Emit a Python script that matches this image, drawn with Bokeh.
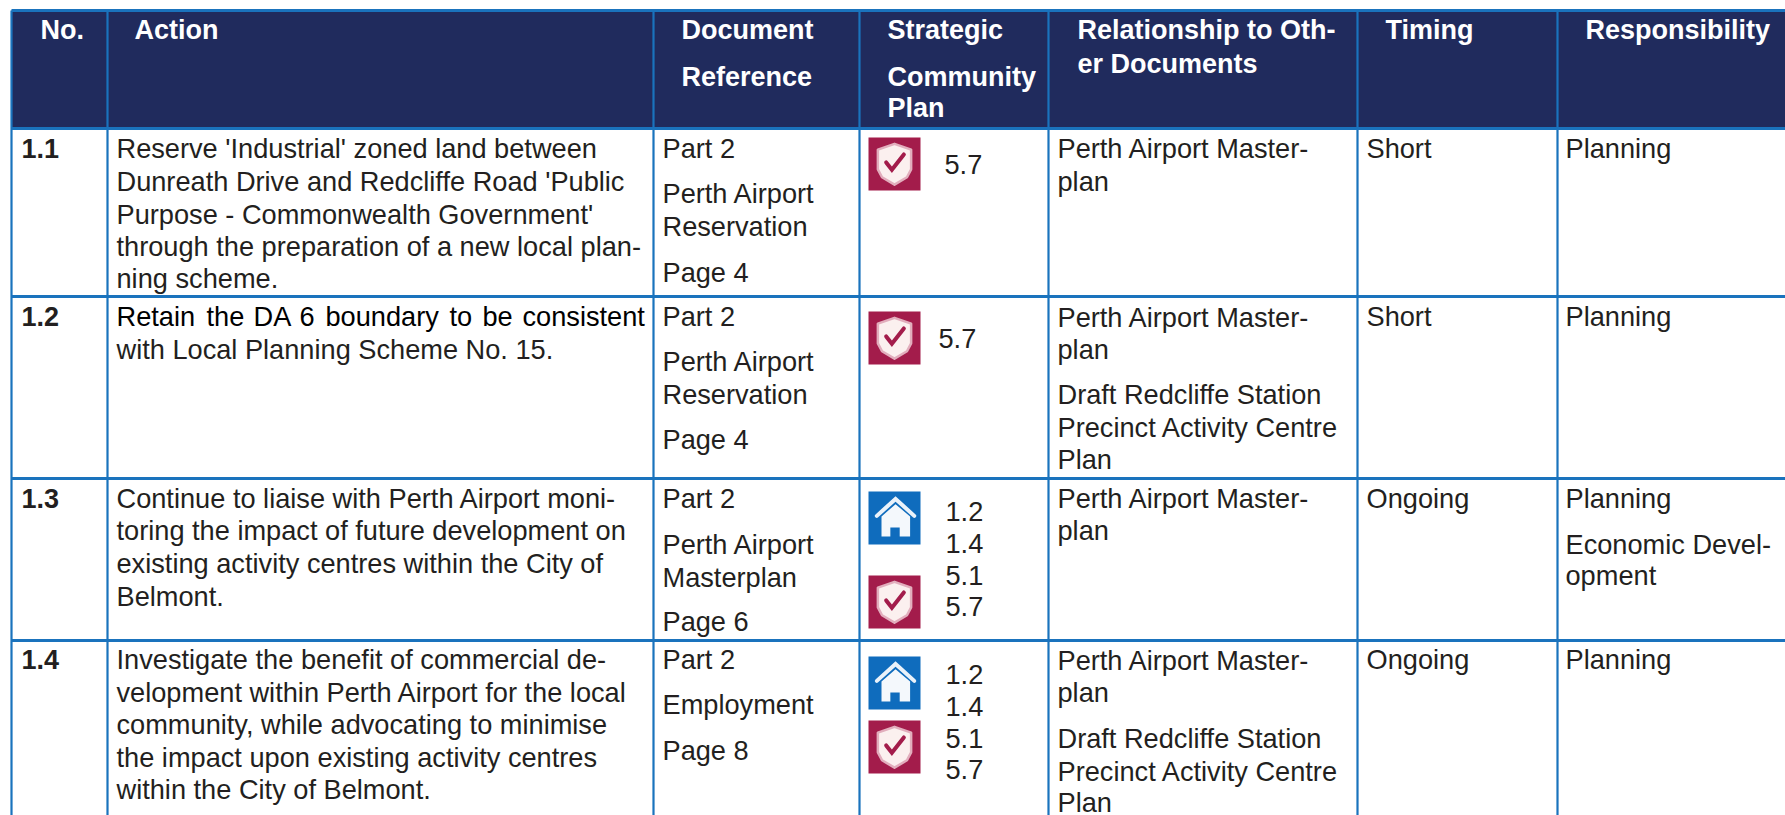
from bokeh.plotting import figure
from bokeh.models import ColumnDataSource
from bokeh.core.properties import value
from bokeh.embed import file_html
from bokeh.resources import INLINE

# ---------- content ----------
HEADERS = [["No."], ["Action"], ["Document", "Reference"], ["Strategic", "Community", "Plan"],
           ["Relationship to Oth-", "er Documents"], ["Timing"], ["Responsibility"]]
NUMBERS = ["1.1", "1.2", "1.3", "1.4"]
ACTIONS = [
    ["Reserve 'Industrial' zoned land between", "Dunreath Drive and Redcliffe Road 'Public",
     "Purpose - Commonwealth Government'", "through the preparation of a new local plan-", "ning scheme."],
    ["with Local Planning Scheme No. 15."],
    ["Continue to liaise with Perth Airport moni-", "toring the impact of future development on",
     "existing activity centres within the City of", "Belmont."],
    ["Investigate the benefit of commercial de-", "velopment within Perth Airport for the local",
     "community, while advocating to minimise", "the impact upon existing activity centres",
     "within the City of Belmont."],
]
JUSTIFIED_WORDS = ["Retain", "the", "DA", "6", "boundary", "to", "be", "consistent"]
DOC_REFS = [
    ["Part 2", "Perth Airport", "Reservation", "Page 4"],
    ["Part 2", "Perth Airport", "Reservation", "Page 4"],
    ["Part 2", "Perth Airport", "Masterplan", "Page 6"],
    ["Part 2", "Employment", "Page 8"],
]
PLAN_CODES = [["5.7"], ["5.7"], ["1.2", "1.4", "5.1", "5.7"], ["1.2", "1.4", "5.1", "5.7"]]
PLAN_ICONS = [["shield"], ["shield"], ["house", "shield"], ["house", "shield"]]
RELATED = [
    ["Perth Airport Master-", "plan"],
    ["Perth Airport Master-", "plan", "Draft Redcliffe Station", "Precinct Activity Centre", "Plan"],
    ["Perth Airport Master-", "plan"],
    ["Perth Airport Master-", "plan", "Draft Redcliffe Station", "Precinct Activity Centre", "Plan"],
]
TIMING = ["Short", "Short", "Ongoing", "Ongoing"]
RESPONSIBLE = [["Planning"], ["Planning"], ["Planning", "Economic Devel-", "opment"], ["Planning"]]

# ---------- layout (page pixels) ----------
W, H = 1785, 815
V_LINES = [11, 107, 653, 859, 1048, 1357, 1557]
TABLE_TOP, HEAD_BOTTOM = 10, 128
ROW_LINES = [296, 478, 640]
COL_X = dict(no=21, action=116, doc=662, code=945, rel=1057, timing=1366, resp=1565)
HEAD_X = [40, 134, 681, 887, 1077, 1385, 1585]
HEAD_Y = [[38], [38], [38, 85], [38, 85, 116], [38, 72], [38], [38]]
ROW_BASE = [157, 325, 507, 668]
ACTION_Y = [[157, 190, 223, 255, 287], [358], [507, 539, 572, 605], [668, 701, 733, 766, 798]]
WORD_X = [116, 206, 253, 299, 325, 449, 482, 522]
DOC_Y = [[157, 202, 235, 281], [325, 370, 403, 448], [507, 553, 586, 630], [668, 713, 759]]
CODE_X = [[944], [938], [945] * 4, [945] * 4]
CODE_Y = [[173], [347], [520, 552, 584, 615], [683, 715, 747, 778]]
ICON_Y = [[137], [311], [491, 575], [656, 720]]
ICON_X, ICON_W, ICON_H = 868, 52, 53
REL_Y = [[157, 190], [326, 358, 403, 436, 468], [507, 539], [669, 701, 747, 780, 811]]
RESP_Y = [[157], [325], [507, 553, 584], [668]]

NAVY, RULE, INK, BLUE, RED = "#202b5d", "#1a73bd", "#231f20", "#0f6cbd", "#a31c4b"
FONT = value("Liberation Sans")
SIZE = "27.2px"
HEAD_SIZE = "27px"
BODY_DY = -9.5
HEAD_DY = -8.5

p = figure(width=W, height=H, x_range=(0, W), y_range=(H, 0), x_axis_location=None, y_axis_location=None,
           toolbar_location=None, output_backend="svg", min_border=0, outline_line_color=None,
           background_fill_color="white", border_fill_color="white")
p.grid.visible = False

# header band
p.quad(left=[V_LINES[0]], right=[W], top=[TABLE_TOP], bottom=[HEAD_BOTTOM], fill_color=NAVY, line_color=None)

# icons
def icon(kind, x0, y0):
    sx = lambda v: x0 + v * ICON_W
    sy = lambda v: y0 + v * ICON_H
    def poly(pts, **kw):
        p.patch([sx(a) for a, _ in pts], [sy(b) for _, b in pts], **kw)
    def stroke(pts, color, width):
        p.line([sx(a) for a, _ in pts], [sy(b) for _, b in pts], line_color=color, line_width=width,
               line_join="miter", line_cap="round")
    if kind == "house":
        p.quad(left=[x0], right=[x0 + ICON_W], top=[y0], bottom=[y0 + ICON_H], fill_color=BLUE, line_color=None)
        poly([(.25, .47), (.52, .24), (.80, .47), (.80, .85), (.60, .85), (.60, .68), (.42, .68), (.42, .85), (.25, .85)],
             fill_color="#f4f8fc", line_color=None)
        stroke([(.16, .46), (.52, .14), (.88, .46)], "#eaf2fa", 4)
    else:
        p.quad(left=[x0], right=[x0 + ICON_W], top=[y0], bottom=[y0 + ICON_H], fill_color=RED, line_color=None)
        poly([(.5, .12), (.82, .23), (.82, .60), (.74, .75), (.5, .89), (.26, .75), (.18, .60), (.18, .23)],
             fill_color="#fbf0ef", line_color="#e2aebd", line_width=2.5, line_join="round")
        stroke([(.34, .47), (.45, .61), (.68, .32)], RED, 4)

for kinds, ys in zip(PLAN_ICONS, ICON_Y):
    for k, y in zip(kinds, ys):
        icon(k, ICON_X, y)

# rules
for x in V_LINES:
    p.segment([x], [TABLE_TOP], [x], [H], line_color=RULE, line_width=2.2)
for y in [TABLE_TOP, HEAD_BOTTOM] + ROW_LINES:
    p.segment([V_LINES[0]], [y], [W], [y], line_color=RULE, line_width=2.8)

# text
def put(xs, ys, texts, color=INK, style="normal", size=SIZE, dy=BODY_DY):
    src = ColumnDataSource(dict(x=xs, y=[v + dy for v in ys], t=texts))
    p.text("x", "y", "t", source=src, text_font=FONT, text_font_size=size, text_font_style=style,
           text_color=color, text_baseline="alphabetic", text_align="left")

def column(x, lines, ys, **kw):
    flat_t = [t for row in lines for t in row]
    flat_y = [y for row in ys for y in row]
    put([x] * len(flat_t), flat_y, flat_t, **kw)

# header
for x, lines, ys in zip(HEAD_X, HEADERS, HEAD_Y):
    put([x] * len(lines), ys, lines, color="white", style="bold", size=HEAD_SIZE, dy=HEAD_DY)

put([COL_X["no"]] * 4, ROW_BASE, NUMBERS, style="bold", size=HEAD_SIZE)
column(COL_X["action"], ACTIONS, ACTION_Y)
put(WORD_X, [325] * len(WORD_X), JUSTIFIED_WORDS, color="#000000")
column(COL_X["doc"], DOC_REFS, DOC_Y)
for t, xs, ys in zip(PLAN_CODES, CODE_X, CODE_Y):
    put(xs, ys, t)
column(COL_X["rel"], RELATED, REL_Y)
put([COL_X["timing"]] * 4, ROW_BASE, TIMING)
column(COL_X["resp"], RESPONSIBLE, RESP_Y)

open("out.html", "w").write(file_html(p, INLINE))
